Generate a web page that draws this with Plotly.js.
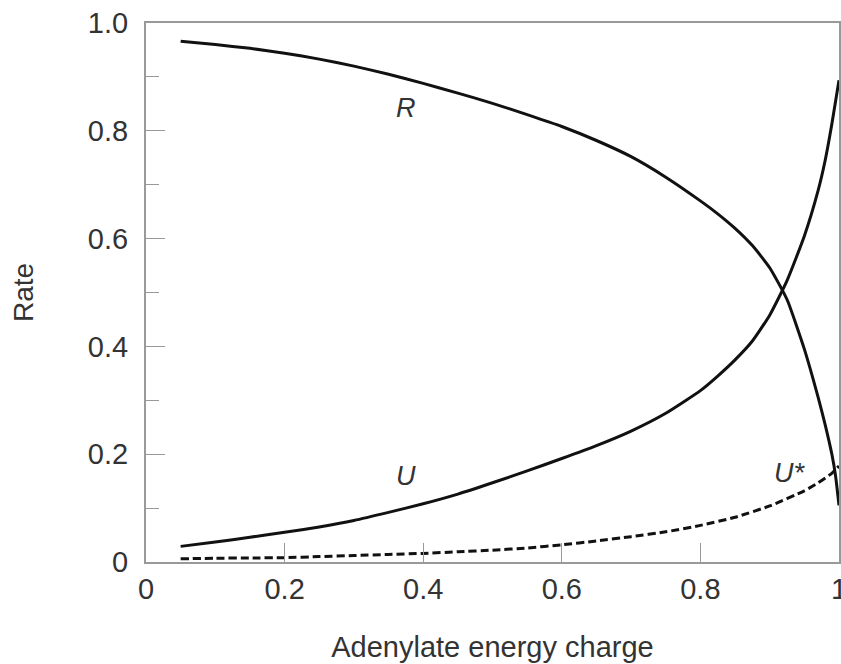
<!DOCTYPE html>
<html>
<head>
<meta charset="utf-8">
<script src="https://cdn.plot.ly/plotly-3.0.1.min.js"></script>
<style>html,body{margin:0;padding:0;background:#fff;}#chart{width:841px;height:664px;}</style>
</head>
<body>
<div id="chart"></div>
<script>
// Data
var chargeR = [0.05, 0.10, 0.15, 0.20, 0.25, 0.30, 0.35, 0.40, 0.45, 0.50, 0.55, 0.60, 0.65, 0.70, 0.75, 0.80, 0.825, 0.85, 0.875, 0.90, 0.925, 0.95, 0.97, 0.98, 0.99, 0.995, 1.0];
var rateR   = [0.966, 0.960, 0.953, 0.944, 0.933, 0.920, 0.905, 0.888, 0.870, 0.851, 0.830, 0.808, 0.782, 0.752, 0.714, 0.670, 0.646, 0.619, 0.587, 0.546, 0.487, 0.395, 0.305, 0.255, 0.198, 0.160, 0.105];

var chargeU = [0.05, 0.10, 0.15, 0.20, 0.25, 0.30, 0.35, 0.40, 0.45, 0.50, 0.55, 0.60, 0.65, 0.70, 0.75, 0.80, 0.825, 0.85, 0.875, 0.90, 0.925, 0.95, 0.97, 0.98, 0.99, 1.0];
var rateU   = [0.029, 0.037, 0.046, 0.055, 0.065, 0.077, 0.092, 0.108, 0.126, 0.147, 0.169, 0.192, 0.216, 0.243, 0.276, 0.318, 0.345, 0.375, 0.410, 0.458, 0.522, 0.605, 0.690, 0.745, 0.815, 0.894];

var chargeUs = [0.05, 0.10, 0.15, 0.20, 0.25, 0.30, 0.35, 0.40, 0.45, 0.50, 0.55, 0.60, 0.65, 0.70, 0.75, 0.80, 0.85, 0.90, 0.95, 0.97, 0.99, 1.0];
var rateUs   = [0.006, 0.007, 0.0075, 0.008, 0.010, 0.012, 0.014, 0.016, 0.019, 0.022, 0.026, 0.032, 0.039, 0.047, 0.056, 0.068, 0.083, 0.104, 0.132, 0.147, 0.165, 0.178];

var xTicks = [0, 0.2, 0.4, 0.6, 0.8, 1];
var xTickText = ["0", "0.2", "0.4", "0.6", "0.8", "1"];
var yTicks = [0, 0.2, 0.4, 0.6, 0.8, 1.0];
var yTickText = ["0", "0.2", "0.4", "0.6", "0.8", "1.0"];
var yMinorTicks = [0.1, 0.3, 0.5, 0.7, 0.9];

var curveLabels = ["R", "U", "U*"];
var labelX = [0.375, 0.375, 0.929];
var labelY = [0.842, 0.159, 0.166];

var font = "Liberation Sans, Arial, sans-serif";
var lineStyle = {color: "#111", width: 3, shape: "spline", smoothing: 0.5};

var traces = [
  {x: chargeR, y: rateR, mode: "lines", line: lineStyle, hoverinfo: "skip"},
  {x: chargeU, y: rateU, mode: "lines", line: lineStyle, hoverinfo: "skip"},
  {x: chargeUs, y: rateUs, mode: "lines", line: {color: "#111", width: 3, dash: "8px,4px", shape: "spline", smoothing: 0.5}, hoverinfo: "skip"}
];

var annotations = curveLabels.map(function (t, i) {
  return {x: labelX[i], y: labelY[i], xref: "x", yref: "y", text: t, showarrow: false,
          font: {family: font, size: 27, color: "#333", style: "italic"}};
});

var layout = {
  width: 841, height: 664,
  margin: {l: 146, r: 2, t: 23, b: 102},
  paper_bgcolor: "#fff", plot_bgcolor: "#fff",
  showlegend: false,
  font: {family: font, color: "#333"},
  xaxis: {
    range: [0, 1], tickvals: xTicks, ticktext: xTickText,
    ticks: "inside", ticklen: 19, tickwidth: 1, tickcolor: "#999",
    showline: true, linecolor: "#999", linewidth: 2, mirror: true,
    showgrid: false, zeroline: false, ticklabeloverflow: "allow",
    tickfont: {size: 29, color: "#333"},
    title: {text: "Adenylate energy charge", font: {size: 29, color: "#333"}, standoff: 33}
  },
  yaxis: {
    range: [0, 1], tickvals: yTicks, ticktext: yTickText,
    ticks: "inside", ticklen: 19, tickwidth: 1, tickcolor: "#999",
    minor: {tickvals: yMinorTicks, ticks: "inside", ticklen: 13, tickwidth: 1, tickcolor: "#999"},
    showline: true, linecolor: "#999", linewidth: 2, mirror: true,
    showgrid: false, zeroline: false,
    tickfont: {size: 29, color: "#333"},
    ticklabelstandoff: 10,
    title: {text: "Rate", font: {size: 28, color: "#333"}, standoff: 46}
  },
  annotations: annotations
};

Plotly.newPlot("chart", traces, layout, {staticPlot: true, displayModeBar: false});
</script>
</body>
</html>
